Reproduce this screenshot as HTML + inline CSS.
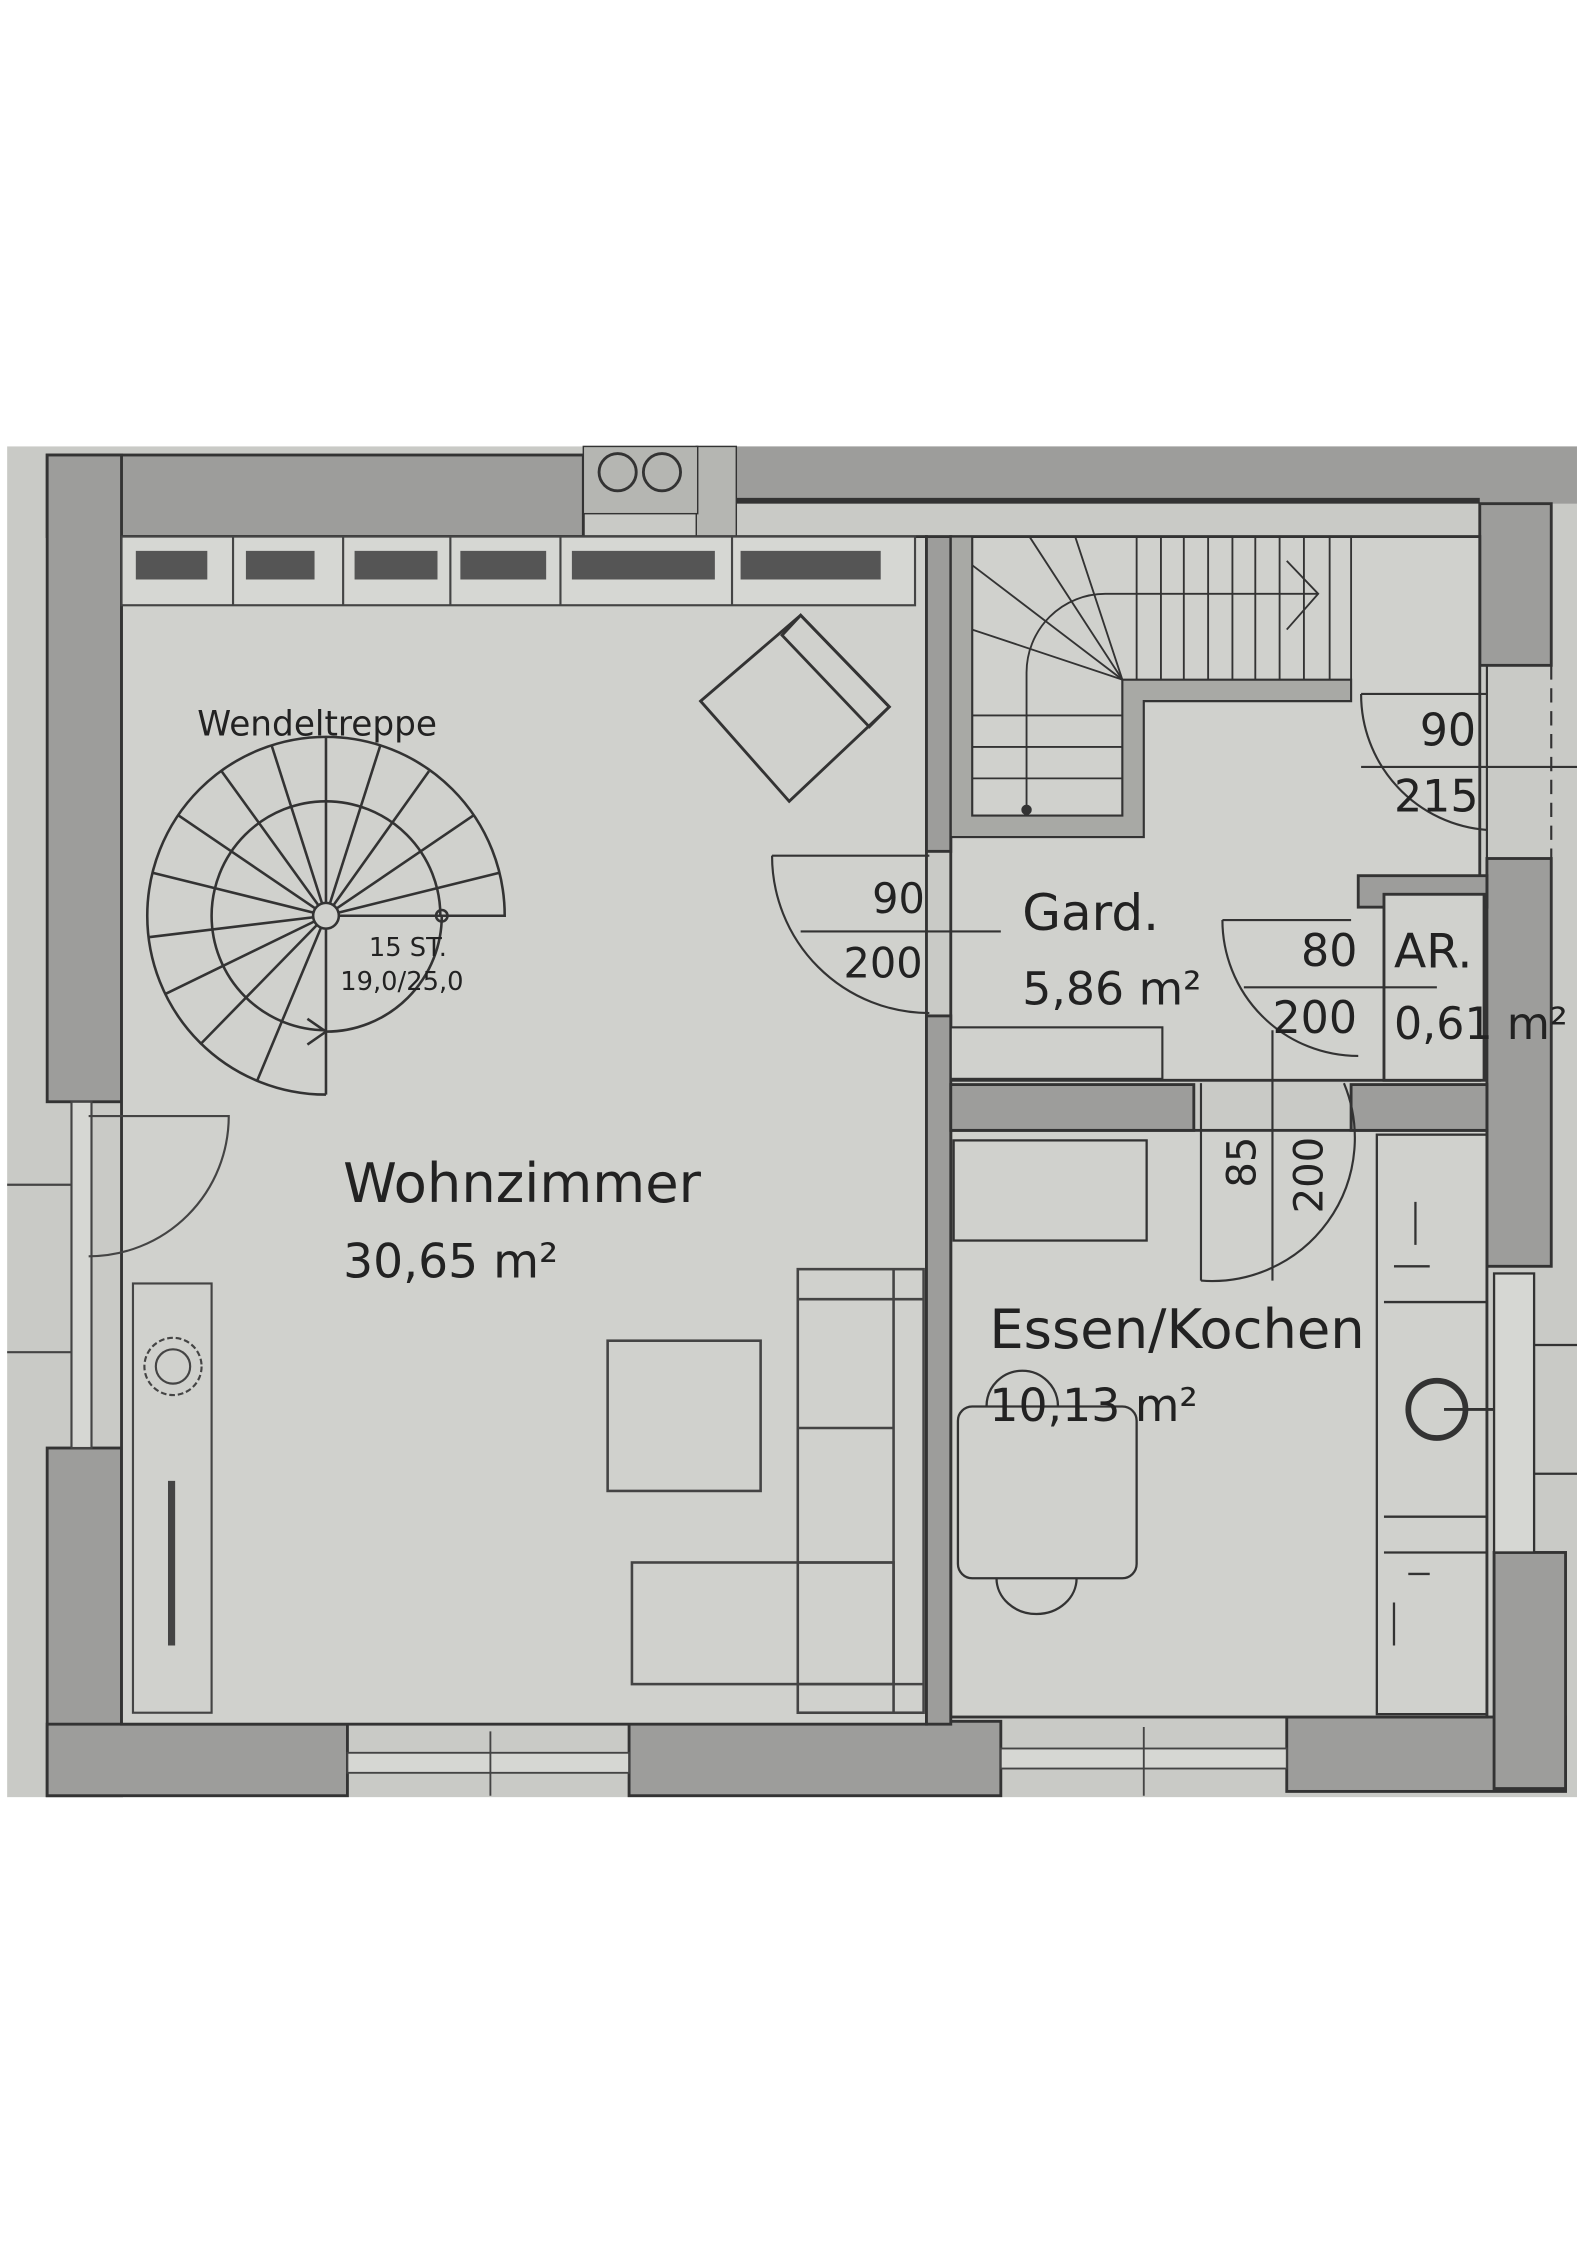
<!DOCTYPE html>
<html><head><meta charset="utf-8"><style>
html,body{margin:0;padding:0;background:#fff}
svg{display:block}
text{font-family:"DejaVu Sans","Liberation Sans",sans-serif;fill:#222}
</style></head><body>
<svg width="1587" height="2245" viewBox="0 0 1110 1569" preserveAspectRatio="none">
<rect x="0" y="0" width="1110" height="1569" fill="#fff"/>
<rect x="5" y="312" width="1098" height="944" fill="#c9cac6"/>
<g stroke="#333" stroke-width="2">
<rect x="33" y="318" width="375" height="57" fill="#9d9d9b"/>
<rect x="33" y="318" width="52" height="452" fill="#9d9d9b"/>
<rect x="33" y="1012" width="52" height="243" fill="#9d9d9b"/>
<rect x="33" y="1205" width="210" height="50" fill="#9d9d9b"/>
<rect x="440" y="1203" width="260" height="52" fill="#9d9d9b"/>
<rect x="900" y="1200" width="195" height="52" fill="#9d9d9b"/>
<rect x="515" y="312" width="588" height="40" fill="#9d9d9b" stroke="none"/>
<line x1="515" y1="350" x2="1035" y2="350" stroke-width="4"/>
<rect x="487" y="312" width="28" height="63" fill="#b5b6b2" stroke-width="1"/>
<rect x="1035" y="352" width="50" height="113" fill="#9d9d9b"/>
<rect x="1040" y="600" width="45" height="285" fill="#9d9d9b"/>
<rect x="1045" y="1085" width="50" height="165" fill="#9d9d9b"/>
<rect x="408" y="312" width="80" height="47" fill="#b5b6b2" stroke-width="1"/>
<rect x="85" y="375" width="563" height="830" fill="#d0d1cd"/>
<rect x="665" y="375" width="370" height="380" fill="#d0d1cd"/>
<rect x="665" y="790" width="375" height="410" fill="#d0d1cd"/>
<rect x="648" y="375" width="17" height="220" fill="#9d9d9b"/>
<rect x="648" y="710" width="17" height="495" fill="#9d9d9b"/>
<rect x="665" y="758" width="170" height="32" fill="#9d9d9b"/>
<rect x="945" y="758" width="95" height="32" fill="#9d9d9b"/>
<rect x="950" y="612" width="90" height="22" fill="#9d9d9b"/>
<rect x="968" y="625" width="70" height="130" fill="#d0d1cd"/>
<rect x="665" y="718" width="148" height="36" fill="#d0d1cd" stroke-width="1.5"/>
<path d="M665 375 V585 H800 V490 H945 V475 H785 V570 H680 V375 Z" fill="#a8a9a5" stroke-width="1.5"/>
</g>
<g stroke="#444" stroke-width="1.5" fill="#d6d7d3">
<rect x="85" y="375" width="555" height="48"/>
<line x1="163" y1="375" x2="163" y2="423"/><line x1="240" y1="375" x2="240" y2="423"/><line x1="315" y1="375" x2="315" y2="423"/><line x1="392" y1="375" x2="392" y2="423"/><line x1="512" y1="375" x2="512" y2="423"/>
</g>
<g fill="#555">
<rect x="95" y="385" width="50" height="20"/><rect x="172" y="385" width="48" height="20"/><rect x="248" y="385" width="58" height="20"/><rect x="322" y="385" width="60" height="20"/><rect x="400" y="385" width="100" height="20"/><rect x="518" y="385" width="98" height="20"/>
</g>
<g fill="none" stroke="#333" stroke-width="2">
<circle cx="432" cy="330" r="13"/><circle cx="463" cy="330" r="13"/>
</g>
<g fill="none" stroke="#333" stroke-width="2">
<polygon points="490,490 560,430 622,494 552,560"/>
<polygon points="560,430 622,494 608,508 547,444"/>
</g>
<g fill="none" stroke="#333" stroke-width="1.8">
<path d="M228 765 A125 125 0 1 1 353 640 H228"/>
<path d="M228 720 A80 80 0 1 1 308 640"/>
<g>
<line x1="228" y1="640" x2="228" y2="515"/>
<line x1="228" y1="640" x2="190" y2="521"/><line x1="228" y1="640" x2="155" y2="539"/><line x1="228" y1="640" x2="125" y2="570"/><line x1="228" y1="640" x2="107" y2="610"/><line x1="228" y1="640" x2="104" y2="655"/><line x1="228" y1="640" x2="115" y2="695"/><line x1="228" y1="640" x2="140" y2="730"/><line x1="228" y1="640" x2="180" y2="755"/><line x1="228" y1="640" x2="228" y2="765"/>
<line x1="228" y1="640" x2="266" y2="521"/><line x1="228" y1="640" x2="300" y2="539"/><line x1="228" y1="640" x2="331" y2="570"/><line x1="228" y1="640" x2="349" y2="610"/>
</g>
<path d="M309 640 A81 81 0 0 1 228 721"/>
<path d="M215 712 L228 721 L215 730"/>
<circle cx="228" cy="640" r="9" fill="#d0d1cd"/>
<circle cx="309" cy="640" r="4"/>
</g>
<text x="138" y="514" font-size="24">Wendeltreppe</text>
<text x="258" y="668" font-size="18">15 ST.</text>
<text x="238" y="692" font-size="18">19,0/25,0</text>
<g fill="none" stroke="#444" stroke-width="1.5">
<rect x="50" y="770" width="14" height="242" fill="#d6d7d3"/>
<path d="M62 878 A98 98 0 0 0 160 780 H62"/>
<line x1="5" y1="828" x2="50" y2="828"/><line x1="5" y1="945" x2="50" y2="945"/>
</g>
<g fill="none" stroke="#444" stroke-width="1.5">
<rect x="93" y="897" width="55" height="300"/>
<circle cx="121" cy="955" r="20" stroke-dasharray="4 2"/><circle cx="121" cy="955" r="12"/>
<line x1="120" y1="1035" x2="120" y2="1150" stroke-width="5"/>
</g>
<g fill="none" stroke="#444" stroke-width="1.8">
<rect x="425" y="937" width="107" height="105"/>
<rect x="558" y="887" width="88" height="310"/>
<line x1="625" y1="887" x2="625" y2="1197"/><line x1="558" y1="908" x2="646" y2="908"/><line x1="558" y1="998" x2="625" y2="998"/><line x1="558" y1="1092" x2="625" y2="1092"/><line x1="558" y1="1177" x2="646" y2="1177"/>
<rect x="442" y="1092" width="183" height="85"/>
</g>
<g fill="none" stroke="#333" stroke-width="1.3">
<line x1="680" y1="440" x2="785" y2="475"/><line x1="680" y1="395" x2="785" y2="475"/><line x1="720" y1="375" x2="785" y2="475"/><line x1="752" y1="375" x2="785" y2="475"/>
<line x1="795" y1="375" x2="795" y2="475"/><line x1="812" y1="375" x2="812" y2="475"/><line x1="828" y1="375" x2="828" y2="475"/><line x1="845" y1="375" x2="845" y2="475"/><line x1="862" y1="375" x2="862" y2="475"/><line x1="878" y1="375" x2="878" y2="475"/><line x1="895" y1="375" x2="895" y2="475"/><line x1="912" y1="375" x2="912" y2="475"/><line x1="930" y1="375" x2="930" y2="475"/><line x1="945" y1="375" x2="945" y2="475"/>
<line x1="680" y1="500" x2="785" y2="500"/><line x1="680" y1="522" x2="785" y2="522"/><line x1="680" y1="544" x2="785" y2="544"/>
<path d="M718 568 V470 A55 55 0 0 1 773 415 H922"/><path d="M900 392 L922 415 L900 440"/>
<circle cx="718" cy="566" r="3" fill="#333"/>
</g>
<g fill="none" stroke="#333" stroke-width="1.5">
<path d="M540 598 A110 110 0 0 0 650 708"/><line x1="540" y1="598" x2="650" y2="598"/>
<line x1="560" y1="651" x2="700" y2="651"/>
<path d="M952 485 A95 95 0 0 0 1040 580"/><line x1="952" y1="485" x2="1040" y2="485"/>
<line x1="952" y1="536" x2="1103" y2="536"/>
<line x1="1040" y1="465" x2="1040" y2="600"/>
<line x1="1085" y1="465" x2="1085" y2="600" stroke-dasharray="10 6"/>
<path d="M855 643 A95 95 0 0 0 950 738"/><line x1="855" y1="643" x2="945" y2="643"/>
<line x1="870" y1="690" x2="1005" y2="690"/>
<line x1="968" y1="625" x2="968" y2="755"/>
<path d="M940 757 A100 100 0 0 1 840 895"/><line x1="840" y1="757" x2="840" y2="895"/>
<line x1="890" y1="720" x2="890" y2="895"/>
</g>
<g fill="none" stroke="#333" stroke-width="1.6">
<rect x="667" y="797" width="135" height="70"/>
<rect x="963" y="793" width="77" height="405"/>
<line x1="968" y1="910" x2="1040" y2="910"/><line x1="968" y1="1060" x2="1040" y2="1060"/><line x1="968" y1="1085" x2="1040" y2="1085"/>
<circle cx="1005" cy="985" r="20" stroke-width="4"/><line x1="1010" y1="985" x2="1065" y2="985" stroke-width="2"/>
<path d="M990 840 V870 M975 885 H1000 M985 1100 H1000 M975 1120 V1150"/>
<rect x="1045" y="890" width="28" height="195" fill="#d6d7d3"/>
<line x1="1073" y1="940" x2="1103" y2="940"/><line x1="1073" y1="1030" x2="1103" y2="1030"/>
<rect x="670" y="983" width="125" height="120" rx="10"/>
<path d="M697 1103 A28 25 0 0 0 753 1103"/>
<path d="M690 983 A25 25 0 0 1 740 983"/>
</g>
<g fill="#d6d7d3" stroke="#444" stroke-width="1.3">
<rect x="243" y="1225" width="197" height="14"/><line x1="343" y1="1210" x2="343" y2="1255"/>
<rect x="700" y="1222" width="200" height="14"/><line x1="800" y1="1207" x2="800" y2="1255"/>
</g>
<text x="240" y="840" font-size="38">Wohnzimmer</text>
<text x="240" y="893" font-size="33">30,65 m²</text>
<text x="715" y="650" font-size="35">Gard.</text>
<text x="715" y="702" font-size="32">5,86 m²</text>
<text x="610" y="638" font-size="29">90</text>
<text x="590" y="683" font-size="29">200</text>
<text x="993" y="521" font-size="31">90</text>
<text x="975" y="567" font-size="31">215</text>
<text x="910" y="675" font-size="31">80</text>
<text x="975" y="676" font-size="33">AR.</text>
<text x="890" y="722" font-size="31">200</text>
<text x="975" y="726" font-size="31">0,61 m²</text>
<text x="692" y="942" font-size="38">Essen/Kochen</text>
<text x="692" y="993" font-size="32">10,13 m²</text>
<text transform="translate(878,830) rotate(-90)" font-size="28">85</text>
<text transform="translate(925,848) rotate(-90)" font-size="28">200</text>
</svg>
</body></html>
